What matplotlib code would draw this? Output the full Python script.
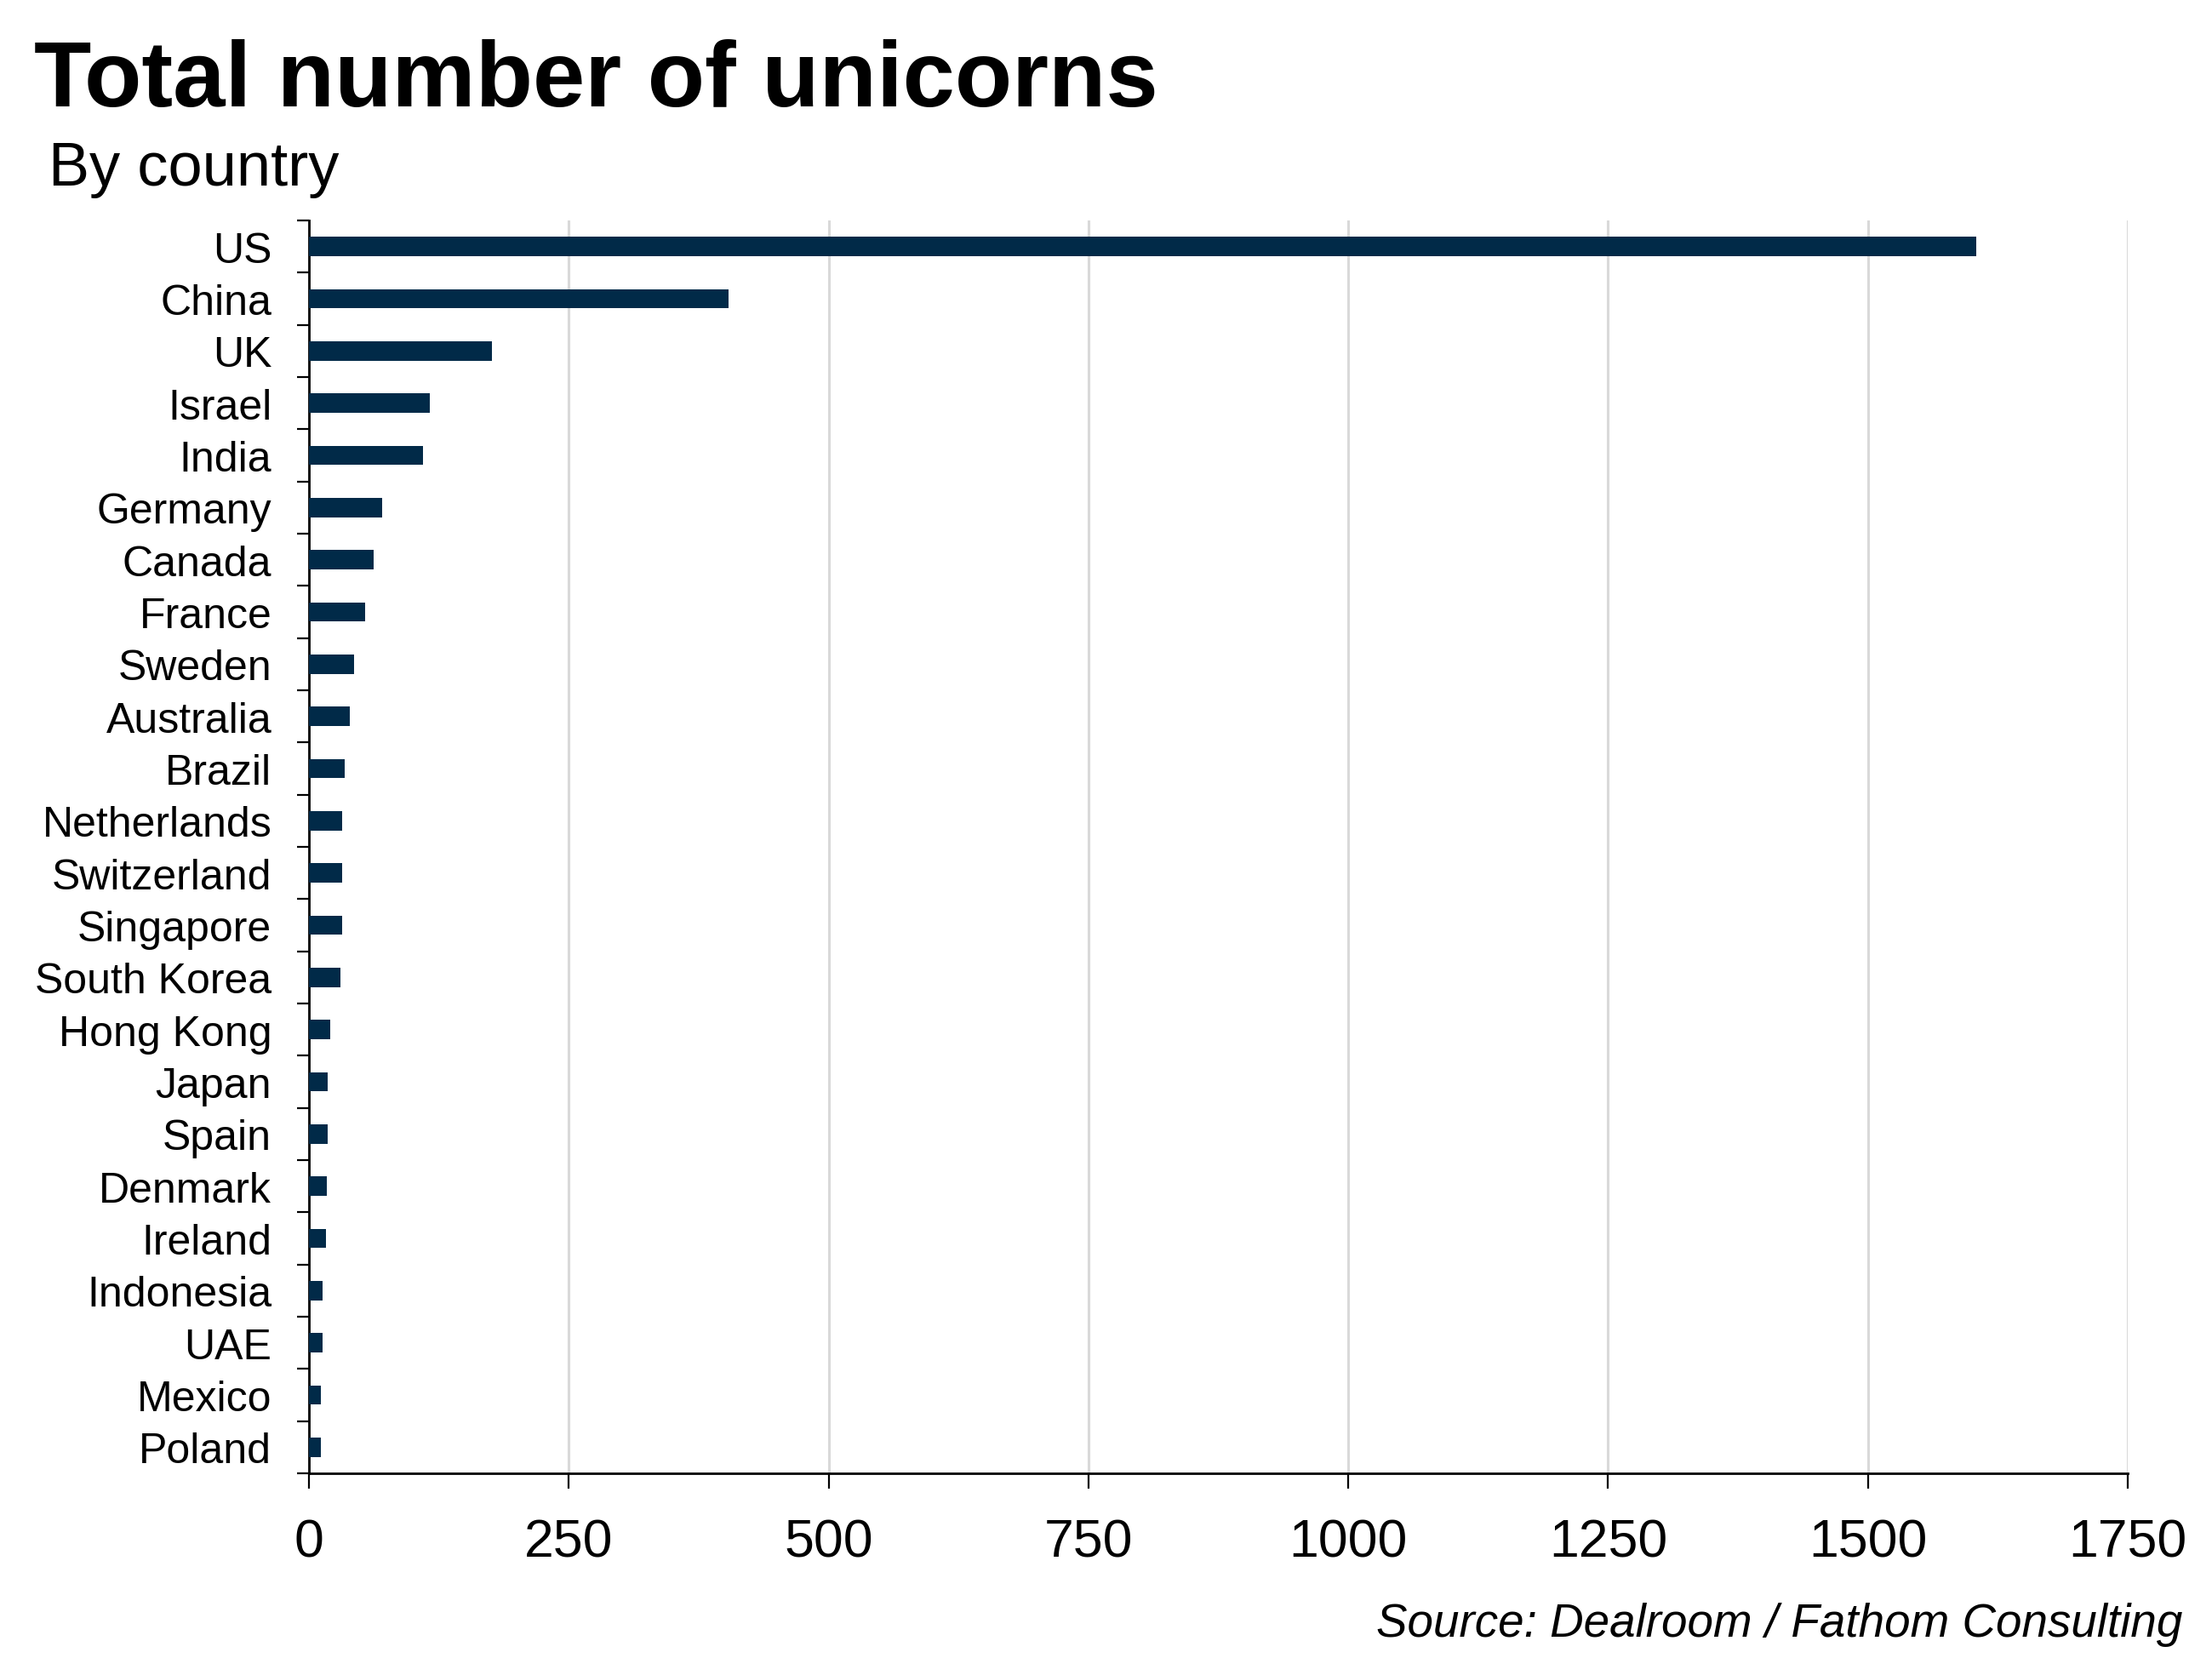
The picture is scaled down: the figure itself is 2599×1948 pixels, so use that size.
import matplotlib.pyplot as plt
import numpy as np

countries = ["US", "China", "UK", "Israel", "India", "Germany", "Canada", "France",
             "Sweden", "Australia", "Brazil", "Netherlands", "Switzerland", "Singapore",
             "South Korea", "Hong Kong", "Japan", "Spain", "Denmark", "Ireland",
             "Indonesia", "UAE", "Mexico", "Poland"]
unicorns = [1604, 404, 176, 116, 110, 70, 62, 54, 43, 39, 34, 32, 32, 32,
            30, 20, 18, 18, 17, 16, 13, 13, 11, 11]
xticks = [0, 250, 500, 750, 1000, 1250, 1500, 1750]

plt.rcParams["font.family"] = ["Liberation Sans", "DejaVu Sans"]

fig = plt.figure(figsize=(12.995, 9.745), dpi=200)
ax = fig.add_axes([0.1397, 0.1113, 0.8222, 0.7553])

y = np.arange(len(countries))
ax.barh(y, unicorns, height=0.37, color="#012a48", zorder=3)

ax.set_xlim(0, 1750)
ax.set_ylim(len(countries) - 0.5, -0.5)
ax.set_xticks(xticks)
ax.set_xticklabels([str(t) for t in xticks], fontsize=22.5)
ax.set_yticks(y)
ax.set_yticklabels(countries, fontsize=18)
ax.set_yticks(np.arange(len(countries) + 1) - 0.5, minor=True)

ax.tick_params(axis="y", which="major", length=0, pad=15.8)
ax.tick_params(axis="y", which="minor", length=5, width=0.8, direction="out")
ax.tick_params(axis="x", length=6.5, width=0.8, pad=12)

ax.grid(axis="x", color="#d9d9d9", linewidth=1.1, zorder=0)
for s in ["top", "right"]:
    ax.spines[s].set_visible(False)
ax.spines["left"].set_linewidth(1.0)
ax.spines["bottom"].set_linewidth(1.0)

fig.text(40 / 2599, 1 - 125 / 1949, "Total number of unicorns", fontsize=39.7,
         fontweight="bold", ha="left", va="baseline")
fig.text(57 / 2599, 1 - 218 / 1949, "By country", fontsize=26,
         ha="left", va="baseline")
fig.text(2564 / 2599, 1 - 1923 / 1949, "Source: Dealroom / Fathom Consulting",
         fontsize=19.7, style="italic", ha="right", va="baseline")

fig.savefig("out.png", dpi=200)
